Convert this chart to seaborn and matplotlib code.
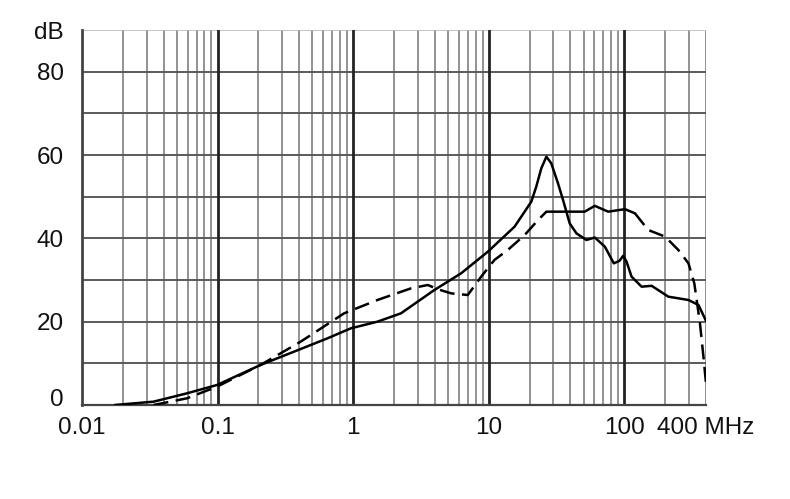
import numpy as np
import pandas as pd
import matplotlib
matplotlib.use("Agg")
import matplotlib.pyplot as plt
import matplotlib.transforms as mtransforms
import seaborn as sns

# Solid curve (frequency MHz, dB)
solid_f = [0.0175, 0.0337, 0.0594, 0.099, 0.207, 0.366, 0.646, 0.96, 1.51, 2.25,
           3.97, 6.25, 9.85, 15.5, 20.6, 22.4, 24.4, 26.6, 28.9, 32.4, 35.3, 39.5, 44.3, 52.5,
           60.5, 71.8, 83.6, 92.0, 98.0, 103.8, 113.0, 134.0, 159.0, 211.0, 297.0, 352.0, 400.0]
solid_db = [0.0, 0.8, 2.8, 4.8, 9.6, 12.8, 16.0, 18.4, 20.0, 22.0,
            27.6, 31.6, 36.8, 42.8, 48.8, 52.4, 56.8, 59.6, 58.0, 53.2, 49.2, 43.6, 41.2, 39.6,
            40.2, 38.0, 34.0, 34.6, 35.8, 34.4, 30.8, 28.4, 28.6, 26.0, 25.2, 24.0, 20.2]

# Dashed curve (frequency MHz, dB)
dash_f = [0.0337, 0.0594, 0.099, 0.207, 0.41, 0.857, 1.51, 2.67, 3.55, 4.2, 5.27, 7.0,
          8.79, 11.0, 13.8, 18.4, 23.1, 26.6, 40.0, 51.0, 60.5, 76.0, 101.0, 119.7,
          150.0, 200.0, 250.0, 297.0, 328.0, 361.0, 383.0, 400.0]
dash_db = [0.0, 1.6, 4.4, 9.6, 15.2, 22.0, 25.2, 28.0, 28.8, 27.8, 26.8, 26.4,
           30.8, 34.8, 37.2, 40.8, 44.4, 46.4, 46.4, 46.4, 47.8, 46.4, 47.0, 46.0,
           42.0, 40.4, 37.2, 34.0, 29.2, 19.6, 11.6, 5.2]

x_ticks = [0.01, 0.1, 1, 10, 100, 400]
x_labels = ["0.01", "0.1", "1", "10", "100", "400 MHz"]
y_ticks = [0, 20, 40, 60, 80, 90]
y_labels = ["0", "20", "40", "60", "80", "dB"]

sns.set_theme(style="white")
plt.rcParams['font.family'] = ['Liberation Sans', 'DejaVu Sans']

fig = plt.figure(figsize=(7.9, 4.99), dpi=100)
ax = fig.add_axes([82/790, 1-405/499, (706-82)/790, (405-30)/499])
ax.set_xscale("log")
ax.set_xlim(0.01, 400)
ax.set_ylim(0, 90)

# grid
minor = []
for dec in [0.01, 0.1, 1, 10, 100]:
    for m in range(2, 10):
        v = dec * m
        if v <= 400:
            minor.append(v)
for v in minor:
    ax.axvline(v, color="#8a8a8a", lw=1.3, zorder=1)
for v in [0.1, 1, 10, 100]:
    ax.axvline(v, color="#222222", lw=2.0, zorder=1.5)
for v in range(10, 90, 10):
    ax.axhline(v, color="#5a5a5a", lw=1.4, zorder=1)
ax.axhline(90, color="#bbbbbb", lw=1.2, zorder=1)

sdf = pd.DataFrame({"f": solid_f, "db": solid_db})
ddf = pd.DataFrame({"f": dash_f, "db": dash_db})
d1 = ddf[ddf.f <= 26.6]
d2 = ddf[(ddf.f >= 26.6) & (ddf.f <= 119.7)]
d3 = ddf[ddf.f >= 119.7]

sns.lineplot(data=sdf, x="f", y="db", ax=ax, color="black", lw=1.8, zorder=3, sort=False)
sns.lineplot(data=d1, x="f", y="db", ax=ax, color="black", lw=1.8, zorder=3,
             sort=False, linestyle=(0, (6, 3)))
sns.lineplot(data=d2, x="f", y="db", ax=ax, color="black", lw=1.8, zorder=3, sort=False)
sns.lineplot(data=d3, x="f", y="db", ax=ax, color="black", lw=1.8, zorder=3,
             sort=False, linestyle=(0, (6, 3)))

ax.set_xticks(x_ticks)
ax.set_xticklabels(x_labels)
ax.xaxis.set_minor_locator(matplotlib.ticker.NullLocator())
ax.set_yticks(y_ticks)
ax.set_yticklabels(y_labels)
ax.tick_params(axis="both", length=0, labelsize=17.5, colors="#111111")
ax.tick_params(axis="x", pad=9)
ax.tick_params(axis="y", pad=13)
ax.set_xlabel("")
ax.set_ylabel("")

# lift the "0" label slightly as in the reference
lab0 = ax.get_yticklabels()[0]
lab0.set_transform(lab0.get_transform() + mtransforms.ScaledTranslation(0, 7/100, fig.dpi_scale_trans))

for s in ["top", "right"]:
    ax.spines[s].set_visible(False)
ax.spines["left"].set_color("#444444")
ax.spines["left"].set_linewidth(2.0)
ax.spines["bottom"].set_color("#444444")
ax.spines["bottom"].set_linewidth(1.6)

fig.savefig("out.png", dpi=100)
